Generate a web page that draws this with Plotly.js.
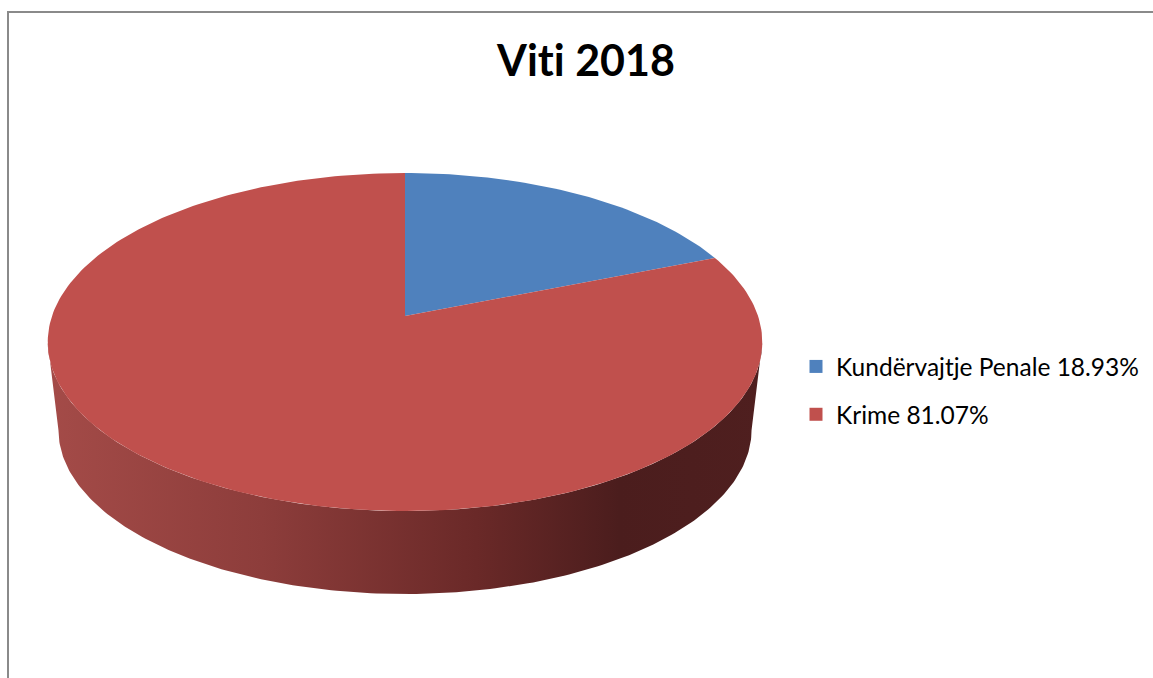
<!DOCTYPE html>
<html><head><meta charset="utf-8">
<script src="https://cdn.plot.ly/plotly-3.0.1.min.js"></script>
<style>html,body{margin:0;padding:0;background:#fff}#chart{width:1153px;height:678px}text{font-variant-ligatures:none;font-feature-settings:"liga" 0}</style>
</head><body><div id="chart"></div><script>
// ---- data ----
const labels = ['Kundërvajtje Penale', 'Krime'];
const values = [18.93, 81.07];
const colors = ['#4f81bd', '#c0504d'];
const chartTitle = 'Viti 2018';

// ---- 3D pie geometry (pixel space) ----
const W = 1153, H = 678;
const cx = 405, cy = 316, Rx = 353, Ry = 165, k = 0.154;
const depthScale = 0.97, vanishY = 3277;
function topPt(t){const u=Math.sin(t), v=Math.cos(t), w=1+k*v; return [cx+Rx*u/w, cy-Ry*v/w];}
function botPt(t){const p=topPt(t); return [cx+depthScale*(p[0]-cx), vanishY+depthScale*(p[1]-vanishY)];}

// silhouette angles
let tL=0, tR=0, minX=1e9, maxX=-1e9;
for(let i=0;i<=3600;i++){const t=i/3600*2*Math.PI; const p=topPt(t); if(p[0]<minX){minX=p[0];tL=t;} if(p[0]>maxX){maxX=p[0];tR=t;}}

const traces = [];
// side wall (front)
{
  const xs=[], ys=[], N=200;
  for(let i=0;i<=N;i++){const t=tR+(tL-tR)*i/N; const p=topPt(t); xs.push(p[0]); ys.push(p[1]);}
  for(let i=N;i>=0;i--){const t=tR+(tL-tR)*i/N; const p=botPt(t); xs.push(p[0]); ys.push(p[1]);}
  xs.push(xs[0]); ys.push(ys[0]);
  traces.push({x:xs, y:ys, mode:'lines', fill:'toself', line:{width:0, color:'rgba(0,0,0,0)'},
    fillgradient:{type:'horizontal', colorscale:[[0,'#a44b48'],[0.3,'#8d3d3b'],[0.6,'#6a2928'],[0.8,'#4b1d1d'],[1,'#4f1f1f']]},
    fillcolor:'#7a3331', showlegend:false, hoverinfo:'skip'});
}
// top slices
const total = values.reduce((a,b)=>a+b,0);
let start = 0;
values.forEach((v,i)=>{
  const a0=start, a1=start+2*Math.PI*v/total; start=a1;
  const xs=[cx], ys=[cy], N=Math.max(20, Math.round(300*v/total));
  for(let j=0;j<=N;j++){const p=topPt(a0+(a1-a0)*j/N); xs.push(p[0]); ys.push(p[1]);}
  xs.push(cx); ys.push(cy);
  traces.push({x:xs, y:ys, mode:'lines', fill:'toself', fillcolor:colors[i], line:{width:0, color:colors[i]},
    showlegend:false, hoverinfo:'skip'});
});
// legend entries
labels.forEach((lab,i)=>{
  traces.push({x:[null], y:[null], mode:'markers', marker:{symbol:'square', size:13, color:colors[i]},
    name: lab+' '+values[i].toFixed(2)+'%', legendgroup:'g'+i, showlegend:true, hoverinfo:'skip'});
});

const layout = {
  width:W, height:H, margin:{l:0,r:0,t:0,b:0},
  paper_bgcolor:'#fff', plot_bgcolor:'#fff',
  xaxis:{range:[0,W], visible:false, fixedrange:true},
  yaxis:{range:[H,0], visible:false, fixedrange:true},
  title:{text:'<b>'+chartTitle+'</b>', font:{family:'Lato', size:43, color:'#000'},
    x:586/W, xanchor:'center', y:1-61/H, yanchor:'middle', xref:'paper', yref:'paper'},
  showlegend:true,
  legend:{x:796/W, y:1-344/H, xanchor:'left', yanchor:'top', font:{family:'Lato', size:24.5, color:'#000'},
    bgcolor:'rgba(0,0,0,0)', tracegroupgap:13, traceorder:'grouped', itemwidth:30},
  shapes:[{type:'rect', xref:'x', yref:'y', x0:8, y0:12, x1:1170, y1:700, line:{color:'#8a8a8a', width:2}}],
  hovermode:false
};
Plotly.newPlot('chart', traces, layout, {displayModeBar:false, staticPlot:true});
</script></body></html>
